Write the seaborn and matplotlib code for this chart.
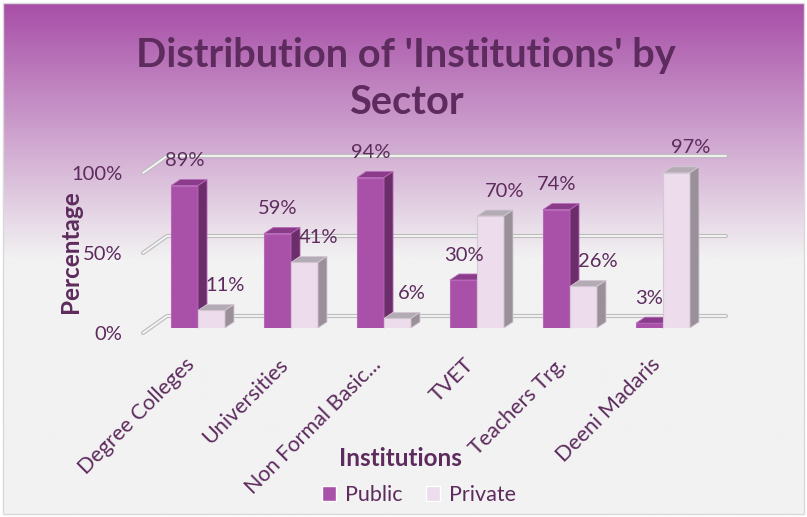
import numpy as np
import pandas as pd
import seaborn as sns
import matplotlib.pyplot as plt
import matplotlib.transforms as mtransforms
from matplotlib.colors import to_rgb
from matplotlib.patches import Polygon, Rectangle

# data
institutions = ["Degree Colleges", "Universities", "Non Formal Basic...",
                "TVET", "Teachers Trg.", "Deeni Madaris"]
public = [89, 59, 94, 30, 74, 3]
private = [11, 41, 6, 70, 26, 97]
sectors = ["Public", "Private"]
y_ticks = [0, 50, 100]

# style
txt = "#5d2b5d"
front = {"Public": "#a950a8", "Private": "#ecdcec"}
top = {"Public": "#8a3c8a", "Private": "#b4acb4"}
side = {"Public": "#6b2e6b", "Private": "#9a909a"}
edge = {"Public": "#b868b8", "Private": "#d4c8d4"}

sns.set_style("white")
plt.rcParams['font.family'] = ['Lato', 'DejaVu Sans']

df = pd.DataFrame({
    "Institution": institutions * 2,
    "Sector": ["Public"] * len(public) + ["Private"] * len(private),
    "Percentage": public + private,
})

W, H = 807, 517
fig = plt.figure(figsize=(W / 100, H / 100), dpi=100)
fig.patch.set_facecolor("white")

# gradient background, purple at top fading to light grey
bg = fig.add_axes([0, 0, 1, 1], zorder=-5)
bg.set_xlim(0, W)
bg.set_ylim(H, 0)
bg.axis("off")
c_top = np.array(to_rgb("#a850a8"))
c_bot = np.array(to_rgb("#f2f2f2"))
rows = np.arange(H)
t = np.clip((rows - 3) / 255.0, 0, 1)[:, None]
grad = c_top * (1 - t) + c_bot * t
bg.imshow(np.repeat(grad[:, None, :], 2, axis=1), extent=(3, 804, 514, 3), aspect="auto")
bg.add_patch(Rectangle((3, 3), 801, 511, fill=False, edgecolor="#d9d9d9", lw=1))

ax = fig.add_axes([151.5 / W, 189 / H, 558 / W, 160 / H])
ax.set_facecolor("none")
sns.barplot(data=df, x="Institution", y="Percentage", hue="Sector",
            palette=[front[s] for s in sectors], width=0.58, ax=ax, saturation=1)
ax.set_xlim(-0.5, 5.5)
ax.set_ylim(0, 100)
sns.despine(ax=ax, left=True, bottom=True)

# 3d depth of bars and back wall (data units)
dx, dy = 0.097, 3.75
wx, wy = 0.258, 10.6   # front wall -> back wall
fx, fy = -0.591, -3.1  # front wall corner

for v in y_ticks:
    xs = [fx, fx + wx, 5.677]
    ys = [v + fy, v + fy + wy, v + fy + wy]
    ax.plot(xs, ys, color="#bdbdbd", lw=3.0, zorder=1, clip_on=False, solid_capstyle="round")
    ax.plot(xs, ys, color="#f6f6f6", lw=1.3, zorder=1.1, clip_on=False, solid_capstyle="round")

for i, (cont, s) in enumerate(zip(ax.containers, sectors)):
    z = 2 + 2 * i
    for bar in cont:
        x0, w, h = bar.get_x(), bar.get_width(), bar.get_height()
        bar.set_zorder(z)
        bar.set_edgecolor(edge[s])
        bar.set_linewidth(0.8)
        ax.add_patch(Polygon([(x0, h), (x0 + w, h), (x0 + w + dx, h + dy), (x0 + dx, h + dy)],
                             closed=True, facecolor=top[s], edgecolor=edge[s], lw=0.6,
                             zorder=z, clip_on=False))
        ax.add_patch(Polygon([(x0 + w, 0), (x0 + w + dx, dy), (x0 + w + dx, h + dy), (x0 + w, h)],
                             closed=True, facecolor=side[s], edgecolor=edge[s], lw=0.6,
                             zorder=z, clip_on=False))
        off = 0.0 if s == "Public" else 0.15
        ax.text(x0 + w / 2 + off, h + 15.6, f"{h:.0f}%", ha="center", va="center",
                fontsize=14.5, color=txt, zorder=10, clip_on=False)

# ticks
ax.set_yticks(y_ticks, [f"{v}%" for v in y_ticks])
ax.tick_params(axis="y", length=0, pad=21, labelsize=14.5, labelcolor=txt)
shift_y = mtransforms.ScaledTranslation(0, -0.05, fig.dpi_scale_trans)
for lab in ax.get_yticklabels():
    lab.set_transform(lab.get_transform() + shift_y)

ax.tick_params(axis="x", length=0, pad=24, labelsize=15.5, labelcolor=txt)
shift_x = mtransforms.ScaledTranslation(-0.06, 0, fig.dpi_scale_trans)
for lab in ax.get_xticklabels():
    lab.set_rotation(45)
    lab.set_ha("right")
    lab.set_va("center")
    lab.set_rotation_mode("anchor")
    lab.set_transform(lab.get_transform() + shift_x)

ax.set_xlabel("")
ax.set_ylabel("")
fig.text(400 / W, 1 - 458 / H, "Institutions", ha="center", va="center",
         fontsize=17.5, fontweight="bold", color=txt)
fig.text(71 / W, 1 - 252 / H, "Percentage", ha="center", va="center", rotation=90,
         fontsize=17.5, fontweight="bold", color=txt)
fig.text(406 / W, 1 - 79 / H, "Distribution of 'Institutions' by\nSector", ha="center",
         va="center", fontsize=28.6, fontweight="bold", color=txt, linespacing=1.33)

sns.move_legend(ax, "center", bbox_to_anchor=(419 / W, 1 - 495 / H),
                bbox_transform=fig.transFigure, ncol=2, frameon=False, title=None,
                fontsize=15.5, handlelength=0.65, handleheight=0.65, handletextpad=0.4,
                columnspacing=1.1, labelcolor=txt)

fig.savefig("out.png", dpi=100)
